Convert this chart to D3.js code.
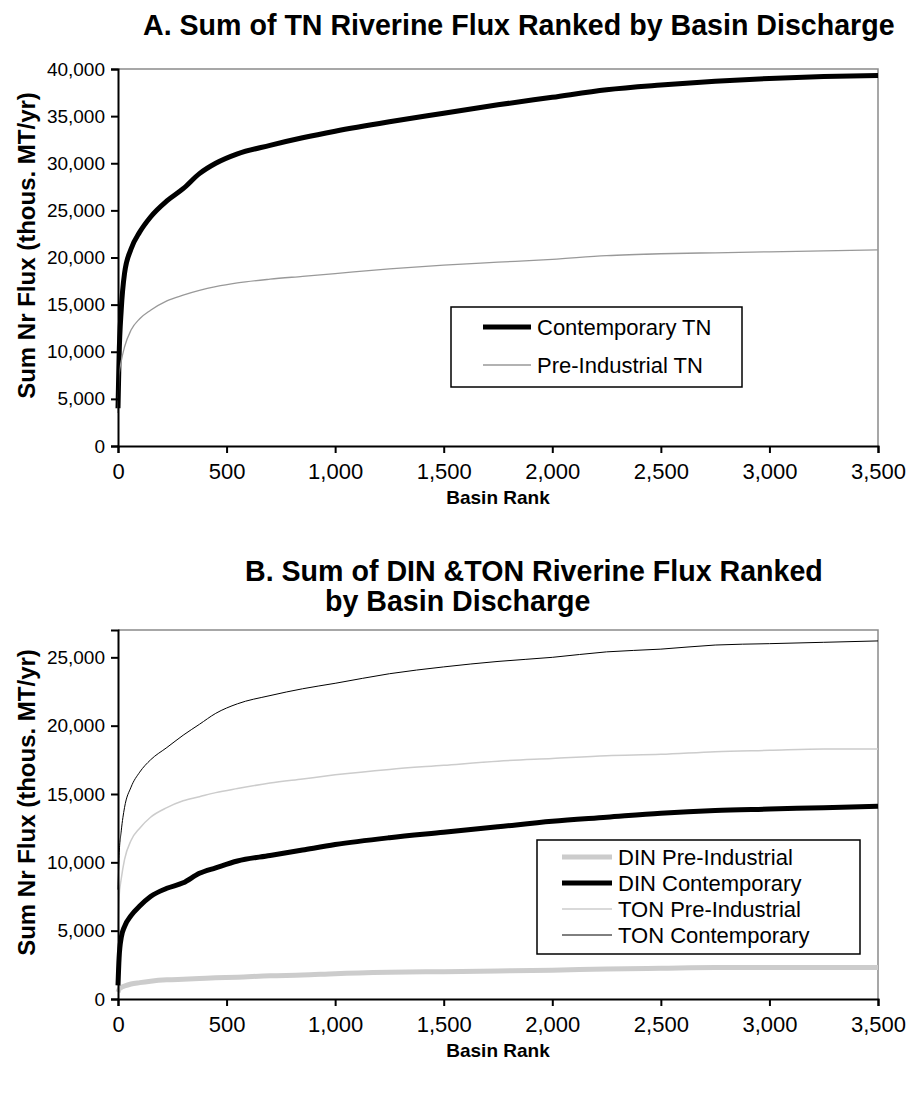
<!DOCTYPE html>
<html>
<head>
<meta charset="utf-8">
<script src="https://cdn.jsdelivr.net/npm/d3@7"></script>
<style>
  body { margin: 0; background: white; }
  text { font-family: Arial, "Liberation Sans", sans-serif; }
</style>
</head>
<body>
<svg id="chart" width="908" height="1100"></svg>
<script>

// basin rank positions the curves were read at (shared by every series)
const ranks = [0, 5, 15, 30, 60, 100, 150, 225, 300, 375, 450, 550, 700, 850, 1000,
               1250, 1500, 1750, 2000, 2250, 2500, 2750, 3000, 3250, 3500]

// panel A - TN
const contemporaryTN = [4000, 9500, 14500, 18300, 20900, 22700, 24300, 26000, 27300, 28900, 30000, 31000, 31900, 32700, 33400,
                        34400, 35300, 36200, 37000, 37800, 38300, 38700, 39000, 39200, 39300]
const preIndustrialTN = [3500, 7500, 9000, 10500, 12300, 13500, 14400, 15400, 16000, 16500, 16900, 17300, 17700, 18000, 18300,
                         18800, 19200, 19500, 19800, 20200, 20400, 20500, 20600, 20700, 20800]

// panel B - DIN & TON
const dinPre = [500, 700, 850, 950, 1100, 1200, 1300, 1400, 1450, 1500, 1550, 1600, 1700, 1750, 1850,
                1950, 2000, 2050, 2100, 2200, 2250, 2300, 2300, 2300, 2300]
const dinCont = [1000, 3000, 4500, 5300, 6100, 6800, 7500, 8100, 8500, 9200, 9600, 10100, 10500, 10900, 11300,
                 11800, 12200, 12600, 13000, 13300, 13600, 13800, 13900, 14000, 14100]
const tonPre = [5000, 7500, 8800, 10200, 11600, 12500, 13300, 14000, 14500, 14800, 15100, 15400, 15800, 16100, 16400,
                16800, 17100, 17400, 17600, 17800, 17900, 18100, 18200, 18300, 18300]
const tonCont = [8000, 10500, 12300, 14000, 15500, 16600, 17500, 18400, 19300, 20100, 20900, 21600, 22200, 22700, 23100,
                 23800, 24300, 24700, 25000, 25400, 25600, 25900, 26000, 26100, 26200]

const xTicks = [0, 500, 1000, 1500, 2000, 2500, 3000, 3500]
const yTicksA = [0, 5000, 10000, 15000, 20000, 25000, 30000, 35000, 40000]
const yTicksB = [0, 5000, 10000, 15000, 20000, 25000]

const svg = d3.select("#chart")
const fmt = d3.format(",")

function drawPanel(opt){

        let g = svg.append("g")

        let x = d3.scaleLinear().domain([0, 3500]).range([opt.left, opt.right])
        let y = d3.scaleLinear().domain([0, opt.ymax]).range([opt.bottom, opt.top])

        // gray frame on top / right
        g.append("path")
                .attr("d", `M${opt.left},${opt.top}H${opt.right}V${opt.bottom}`)
                .attr("fill", "none")
                .attr("stroke", "#8a8a8a")
                .attr("stroke-width", 1.5)

        let line = d3.line()
                .x((d, i) => x(ranks[i]))
                .y(d => y(d))
                .curve(d3.curveMonotoneX)

        opt.series.forEach(s => {
                g.append("path")
                        .datum(s.values)
                        .attr("d", line)
                        .attr("fill", "none")
                        .attr("stroke", s.color)
                        .attr("stroke-width", s.width)
                        .attr("stroke-linejoin", "round")
        })

        let xAxis = g.append("g")
                .attr("transform", `translate(0,${opt.bottom})`)
                .call(d3.axisBottom(x).tickValues(xTicks).tickFormat(fmt).tickSize(7).tickPadding(10))
        xAxis.select(".domain").attr("stroke-width", 2)
        xAxis.selectAll(".tick line").attr("stroke-width", 2)
        xAxis.selectAll("text").attr("font-size", 22).attr("fill", "#000")

        let yAxis = g.append("g")
                .attr("transform", `translate(${opt.left},0)`)
                .call(d3.axisLeft(y).tickValues(opt.yTicks).tickFormat(fmt).tickSize(7).tickPadding(6))
        yAxis.select(".domain").attr("stroke-width", 2)
        yAxis.selectAll(".tick line").attr("stroke-width", 2)
        yAxis.selectAll("text").attr("font-size", 19).attr("fill", "#000")

        // axis titles
        g.append("text")
                .attr("x", (opt.left + opt.right) / 2)
                .attr("y", opt.bottom + 58)
                .attr("text-anchor", "middle")
                .attr("font-size", 19)
                .attr("font-weight", "bold")
                .text("Basin Rank")

        g.append("text")
                .attr("transform", `translate(35,${(opt.top + opt.bottom) / 2 - 12}) rotate(-90)`)
                .attr("text-anchor", "middle")
                .attr("font-size", 24)
                .attr("font-weight", "bold")
                .text("Sum Nr Flux (thous. MT/yr)")

        // titles
        opt.title.forEach(t => {
                g.append("text")
                        .attr("x", t.x)
                        .attr("y", t.y)
                        .attr("font-size", 28.6)
                        .attr("font-weight", "bold")
                        .text(t.text)
        })

        // legend
        let L = opt.legend
        let lg = g.append("g")
        lg.append("rect")
                .attr("x", L.x).attr("y", L.y)
                .attr("width", L.w).attr("height", L.h)
                .attr("fill", "white")
                .attr("stroke", "#000")
                .attr("stroke-width", 1.5)

        opt.series.forEach((s, idx) => {
                let yy = L.y + L.first + idx * L.step
                lg.append("line")
                        .attr("x1", L.lineX).attr("x2", L.lineX + L.lineW)
                        .attr("y1", yy).attr("y2", yy)
                        .attr("stroke", s.color)
                        .attr("stroke-width", s.width)
                lg.append("text")
                        .attr("x", L.lineX + L.lineW + 6)
                        .attr("y", yy)
                        .attr("dy", "0.35em")
                        .attr("font-size", 22)
                        .text(s.name)
        })
}

drawPanel({
        left: 118, right: 878, top: 69, bottom: 446, ymax: 40000,
        yTicks: yTicksA,
        title: [{x: 143, y: 35, text: "A.  Sum of TN Riverine Flux Ranked by Basin Discharge"}],
        series: [
                {name: "Contemporary TN", values: contemporaryTN, color: "#000", width: 5},
                {name: "Pre-Industrial TN", values: preIndustrialTN, color: "#999", width: 1.3}
        ],
        legend: {x: 451, y: 307, w: 291, h: 80, first: 20, step: 38, lineX: 483, lineW: 48}
})

drawPanel({
        left: 118, right: 878, top: 630, bottom: 999, ymax: 27000,
        yTicks: yTicksB,
        title: [{x: 245, y: 581, text: "B.  Sum of DIN &TON Riverine Flux Ranked"},
                {x: 325, y: 611, text: "by Basin Discharge"}],
        series: [
                {name: "DIN Pre-Industrial", values: dinPre, color: "#cccccc", width: 5},
                {name: "DIN Contemporary", values: dinCont, color: "#000", width: 5},
                {name: "TON Pre-Industrial", values: tonPre, color: "#cccccc", width: 1.5},
                {name: "TON Contemporary", values: tonCont, color: "#000", width: 1}
        ],
        legend: {x: 537, y: 840, w: 323, h: 114, first: 17, step: 26, lineX: 562, lineW: 50}
})

</script>
</body>
</html>
